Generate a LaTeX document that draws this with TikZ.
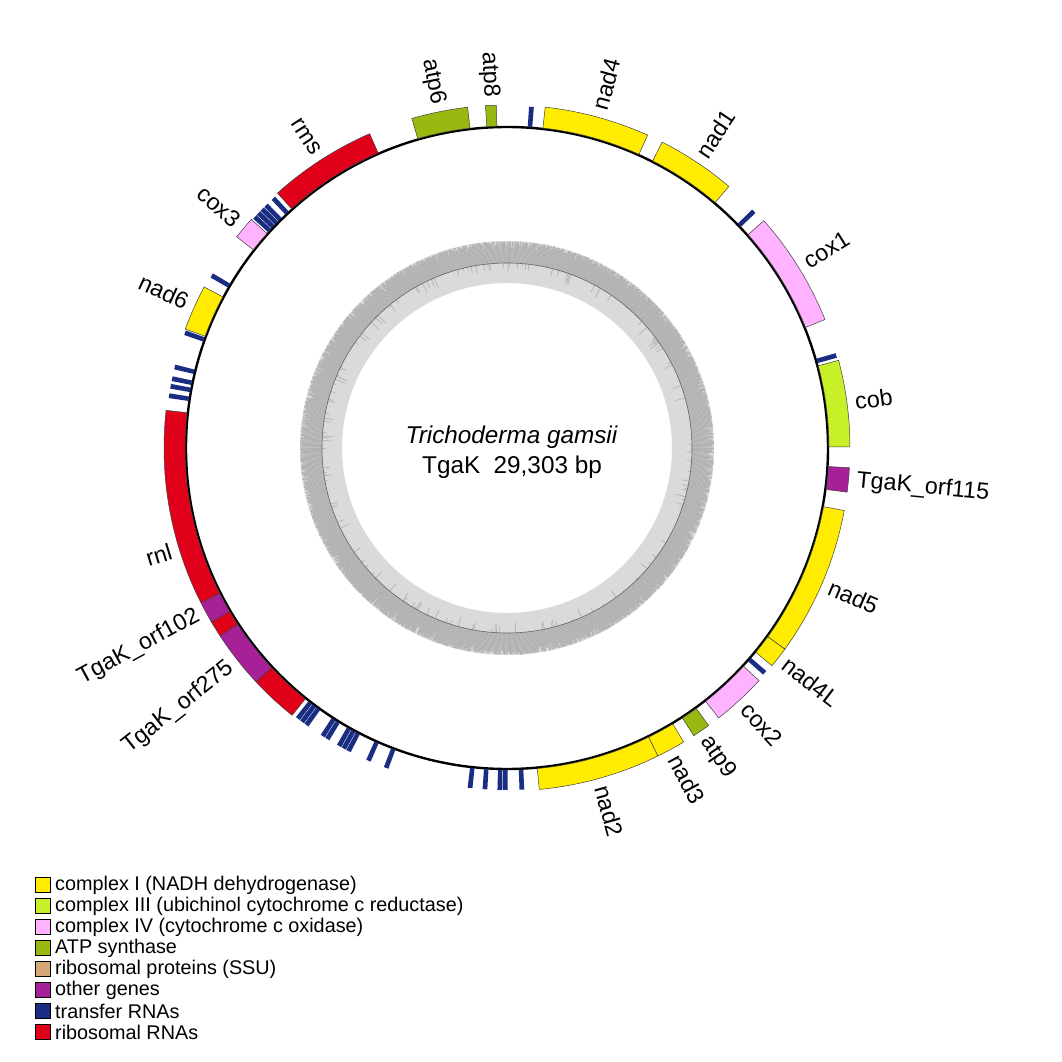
\documentclass[tikz,border=0pt]{standalone}
\usepackage{fontspec}
\setmainfont{Liberation Sans}
\definecolor{cI}{RGB}{255,236,0}
\definecolor{cIII}{RGB}{200,240,40}
\definecolor{cIV}{RGB}{255,178,255}
\definecolor{catp}{RGB}{152,185,15}
\definecolor{crps}{RGB}{214,168,120}
\definecolor{coth}{RGB}{168,32,152}
\definecolor{ctrna}{RGB}{25,45,130}
\definecolor{crrna}{RGB}{225,0,25}
\definecolor{gclight}{RGB}{218,218,218}
\definecolor{gcdark}{RGB}{178,178,178}
\newcommand{\mgene}[3]{\filldraw[genebox, fill=#3] ({90-(#1)}:322pt) arc[start angle={90-(#1)}, end angle={90-(#2)}, radius=322pt] -- ({90-(#2)}:343pt) arc[start angle={90-(#2)}, end angle={90-(#1)}, radius=343pt] -- cycle;}
\newcommand{\mtrna}[1]{\fill[trnabox] ({90-(#1)+0.4}:322pt) arc[start angle={90-(#1)+0.4}, end angle={90-(#1)-0.4}, radius=322pt] -- ({90-(#1)-0.4}:342pt) arc[start angle={90-(#1)-0.4}, end angle={90-(#1)+0.4}, radius=342pt] -- cycle;}
\newcommand{\rlab}[3]{\node[glab, rotate={90-(#2)}, anchor=west] (#1) at ({90-(#2)}:351pt) {#3};}
\newcommand{\llab}[3]{\node[glab, rotate={270-(#2)}, anchor=east] (#1) at ({90-(#2)}:351pt) {#3};}
\tikzset{
  genebox/.style={draw=black!75, line width=0.5pt},
  trnabox/.style={fill=ctrna},
  glab/.style={inner sep=0pt, font=\fontsize{23.3}{26}\selectfont},
  legbox/.style={draw=black, line width=0.8pt, minimum width=15pt, minimum height=15pt, inner sep=0pt},
  legtext/.style={anchor=west, inner sep=0pt, font=\fontsize{19.8}{23}\selectfont},
}
\begin{document}
\begin{tikzpicture}[x=1pt,y=1pt]
\useasboundingbox (-507pt,-614pt) rectangle (555pt,448pt);
\fill[white] (-507pt,-614pt) rectangle (555pt,448pt);
% GC ring
\fill[gclight, even odd rule] (0,0) circle[radius=207pt] (0,0) circle[radius=165pt];
\pgfmathsetseed{7}
\foreach \i in {0,...,1439}{
  \pgfmathsetmacro\ang{\i*0.25}
  \pgfmathsetmacro\ro{207-12*rnd*rnd*rnd}
  \draw[gcdark, line width=0.9pt] (\ang:185pt) -- (\ang:\ro pt);
}
\foreach \i in {0,...,719}{
  \pgfmathsetmacro\ang{\i*0.5+0.2}
  \pgfmathsetmacro\ri{185-max(0,rnd-0.78)*50}
  \draw[gcdark, line width=0.7pt] (\ang:185pt) -- (\ang:\ri pt);
}
\draw[black!60, line width=0.6pt] (0,0) circle[radius=185pt];
% main circle
\draw[line width=2.4pt] (0,0) circle[radius=321pt];
% genes
\mgene{6.4}{24.2}{cI}
\mgene{26.9}{40.3}{cI}
\mgene{48.5}{68}{cIV}
\mgene{75.2}{89.8}{cIII}
\mgene{93.3}{97.4}{coth}
\mgene{100.5}{125.9}{cI}
\mgene{125.9}{129.4}{cI}
\mgene{132.7}{141.9}{cIV}
\mgene{144}{147}{catp}
\mgene{149}{153.9}{cI}
\mgene{153.9}{174.6}{cI}
\mgene{218.8}{227}{crrna}
\mgene{227}{236.8}{coth}
\mgene{236.8}{239.5}{crrna}
\mgene{239.5}{243.2}{coth}
\mgene{243.2}{276.3}{crrna}
\mgene{290.3}{298}{cI}
\mgene{308}{311.8}{cIV}
\mgene{318}{336.4}{crrna}
\mgene{343.9}{353.4}{catp}
\mgene{356.4}{358.2}{catp}
% tRNAs
\foreach \t in {4.1,46.2,74.3,131.1,177.5,180.3,181.2,183.7,186.2,200.7,203.9,207.6,208.5,209.4,211.7,212.6,215.9,216.8,217.7,278.8,280.4,281.7,283.7,289.7,300.3,312.5,313.4,314.3,315.2,316.9}{\mtrna{\t}}
% gene labels
\llab{latpsix}{348.6}{atp6}
\llab{latpeight}{357.3}{atp8}
\rlab{lnadfour}{15.3}{nad4}
\rlab{lnadone}{33.6}{nad1}
\rlab{lcoxone}{58.2}{cox1}
\rlab{lcob}{82.4}{cob}
\rlab{lorfA}{95.4}{TgaK\_orf115}
\rlab{lnadfive}{113.3}{nad5}
\rlab{lnadfourL}{127.6}{nad4L}
\rlab{lcoxtwo}{137.3}{cox2}
\rlab{latpnine}{145.7}{atp9}
\rlab{lnadthree}{151.5}{nad3}
\rlab{lnadtwo}{164.3}{nad2}
\llab{lorfB}{231.7}{TgaK\_orf275}
\llab{lorfC}{241.6}{TgaK\_orf102}
\llab{lrnl}{253}{rnl}
\llab{lnadsix}{294.5}{nad6}
\llab{lcoxthree}{310}{cox3}
\llab{lrms}{327.2}{rms}
% center text
\node[font=\fontsize{24.3}{28}\selectfont\itshape, inner sep=0pt] (title) at (4.5pt,11pt) {Trichoderma gamsii};
\node[font=\fontsize{24.3}{28}\selectfont, inner sep=0pt] (sub) at (5pt,-19pt) {TgaK\ \ 29,303 bp};
% legend
\foreach \c/\txt [count=\k from 0] in {cI/complex I (NADH dehydrogenase), cIII/complex III (ubichinol cytochrome c reductase), cIV/complex IV (cytochrome c oxidase), catp/ATP synthase, crps/ribosomal proteins (SSU), coth/other genes, ctrna/transfer RNAs, crrna/ribosomal RNAs}{
  \node[legbox, fill=\c] (lb\k) at (-464pt,{-437-21*\k}) {};
  \node[legtext] (lt\k) at (-452pt,{-437-21*\k}) {\txt};
}
\end{tikzpicture}
\end{document}
